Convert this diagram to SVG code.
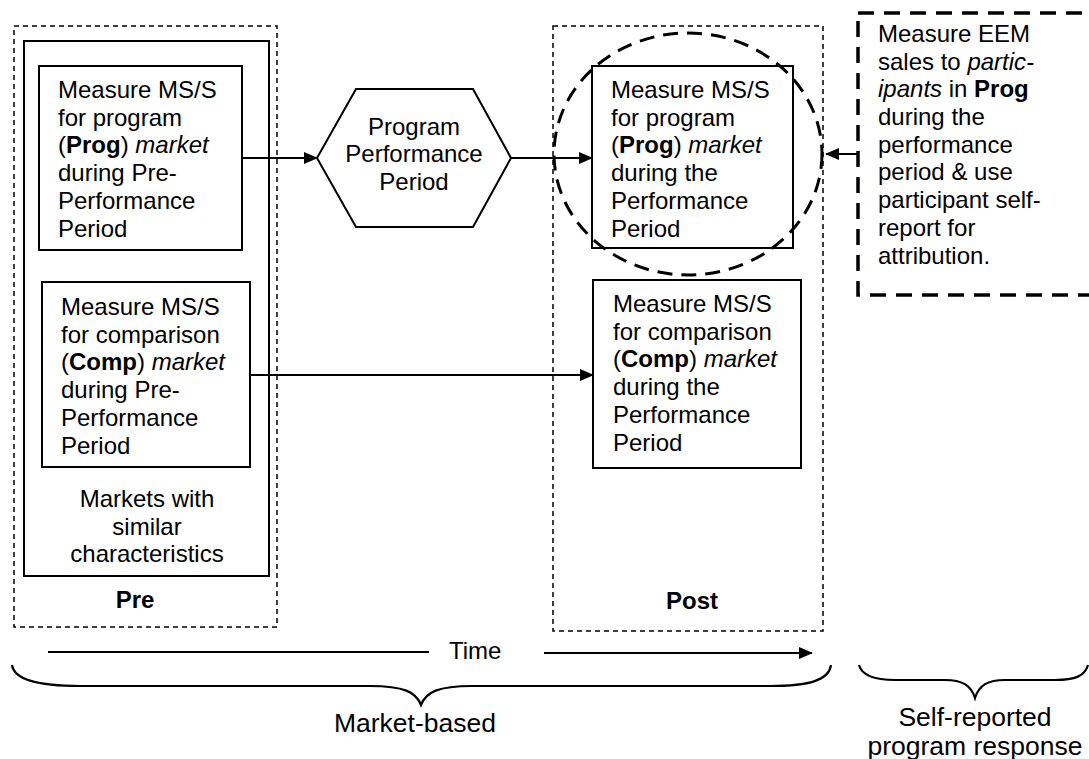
<svg xmlns="http://www.w3.org/2000/svg" width="1089" height="759" viewBox="0 0 1089 759">
<defs>
<marker id="ah" markerWidth="14" markerHeight="12" refX="13" refY="6" orient="auto" markerUnits="userSpaceOnUse">
<path d="M0,0 L14,6 L0,12 Z" fill="#000"/>
</marker>
<style>
text{font-family:"Liberation Sans",Arial,sans-serif;font-size:24px;fill:#000}
.b{font-weight:bold}
.i{font-style:italic}
.big{font-size:26.5px}
.box{fill:#fff;stroke:#000;stroke-width:2}
.thin{fill:none;stroke:#000;stroke-width:1.5;stroke-dasharray:5 4}
.thick{fill:none;stroke:#000;stroke-width:3.5;stroke-dasharray:16 10}
.circ{fill:none;stroke:#000;stroke-width:3;stroke-dasharray:15 9}
.c{fill:none;stroke:#000;stroke-width:2}
.brace{fill:none;stroke:#000;stroke-width:2.2}
</style>
</defs>
<rect width="1089" height="759" fill="#fff"/>

<g id="pre">
<rect class="thin" x="14" y="26" width="263" height="601"/>
<rect class="box" x="24" y="41" width="245" height="535"/>
<text x="147" y="507" text-anchor="middle">Markets with</text>
<text x="147" y="535" text-anchor="middle">similar</text>
<text x="147" y="562" text-anchor="middle">characteristics</text>
<text class="b" x="135" y="608" text-anchor="middle">Pre</text>
</g>

<g id="post">
<rect class="thin" x="553" y="26" width="270" height="605"/>
<text class="b" x="692" y="609" text-anchor="middle">Post</text>
</g>

<g id="pre-prog">
<rect class="box" x="39" y="66" width="203" height="184"/>
<text x="58" y="98">Measure MS/S</text>
<text x="58" y="126">for program</text>
<text x="58" y="153">(<tspan class="b">Prog</tspan>) <tspan class="i">market</tspan></text>
<text x="58" y="181">during Pre-</text>
<text x="58" y="209">Performance</text>
<text x="58" y="237">Period</text>
</g>

<g id="pre-comp">
<rect class="box" x="42" y="282" width="208" height="185"/>
<text x="61" y="315">Measure MS/S</text>
<text x="61" y="343">for comparison</text>
<text x="61" y="370">(<tspan class="b">Comp</tspan>) <tspan class="i">market</tspan></text>
<text x="61" y="398">during Pre-</text>
<text x="61" y="426">Performance</text>
<text x="61" y="454">Period</text>
</g>

<g id="hexagon">
<polygon class="box" points="317,158 356,89 473,89 511,158 473,227 356,227"/>
<text x="414" y="135" text-anchor="middle">Program</text>
<text x="414" y="162" text-anchor="middle">Performance</text>
<text x="414" y="190" text-anchor="middle">Period</text>
</g>

<g id="post-prog">
<rect class="box" x="592" y="66" width="201" height="182"/>
<text x="611" y="98">Measure MS/S</text>
<text x="611" y="126">for program</text>
<text x="611" y="153">(<tspan class="b">Prog</tspan>) <tspan class="i">market</tspan></text>
<text x="611" y="181">during the</text>
<text x="611" y="209">Performance</text>
<text x="611" y="237">Period</text>
</g>

<g id="circle">
<ellipse class="circ" cx="688" cy="154" rx="134" ry="121"/>
</g>

<g id="post-comp">
<rect class="box" x="593" y="280" width="208" height="188"/>
<text x="613" y="312">Measure MS/S</text>
<text x="613" y="340">for comparison</text>
<text x="613" y="367">(<tspan class="b">Comp</tspan>) <tspan class="i">market</tspan></text>
<text x="613" y="395">during the</text>
<text x="613" y="423">Performance</text>
<text x="613" y="451">Period</text>
</g>

<g id="self-report">
<rect class="thick" x="858" y="13" width="250" height="282"/>
<text x="878" y="42">Measure EEM</text>
<text x="878" y="70">sales to <tspan class="i">partic-</tspan></text>
<text x="878" y="97"><tspan class="i">ipants</tspan> in <tspan class="b">Prog</tspan></text>
<text x="878" y="125">during the</text>
<text x="878" y="153">performance</text>
<text x="878" y="180">period &amp; use</text>
<text x="878" y="208">participant self-</text>
<text x="878" y="236">report for</text>
<text x="878" y="264">attribution.</text>
</g>

<g id="connectors">
<line class="c" x1="242" y1="158" x2="317" y2="158" marker-end="url(#ah)"/>
<line class="c" x1="511" y1="158" x2="592" y2="158" marker-end="url(#ah)"/>
<line class="c" x1="250" y1="375" x2="593" y2="375" marker-end="url(#ah)"/>
<line class="c" x1="858" y1="154" x2="826" y2="154" marker-end="url(#ah)"/>
</g>

<g id="time">
<line class="c" x1="48" y1="652" x2="429" y2="652"/>
<text x="449" y="659">Time</text>
<line class="c" x1="544" y1="653" x2="812" y2="653" marker-end="url(#ah)"/>
</g>

<g id="brace-market">
<path class="brace" d="M12,665 C14,680 40,686 80,686 L370,686 C404,686 416,692 421,705 C426,692 438,686 472,686 L770,686 C810,686 829,680 831,665"/>
<text class="big" x="415" y="732" text-anchor="middle">Market-based</text>
</g>

<g id="brace-self">
<path class="brace" d="M859,665 C862,676 875,680 895,680 L945,680 C962,680 971,685 975,698 C979,685 988,680 1005,680 L1055,680 C1075,680 1085,676 1088,665"/>
<text class="big" x="975" y="726" text-anchor="middle">Self-reported</text>
<text class="big" x="975" y="755" text-anchor="middle">program response</text>
</g>
</svg>
